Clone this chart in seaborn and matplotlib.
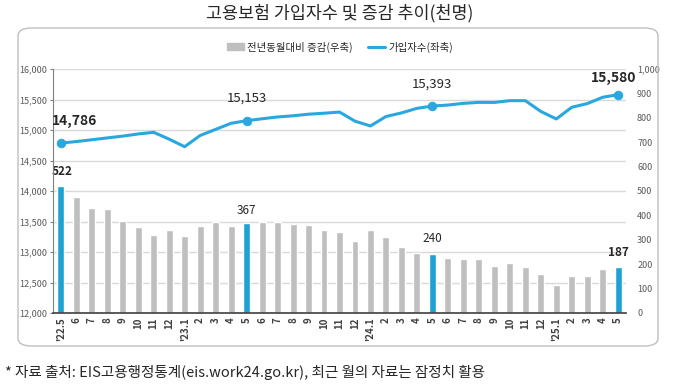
import matplotlib
matplotlib.use("Agg")
import matplotlib.pyplot as plt
import seaborn as sns
import pandas as pd
from matplotlib.patches import FancyBboxPatch, Patch
from matplotlib.lines import Line2D
from matplotlib.ticker import FuncFormatter, MultipleLocator

# month labels as printed under the bars
tick_labels = ["'22.5", "6", "7", "8", "9", "10", "11", "12",
               "'23.1", "2", "3", "4", "5", "6", "7", "8", "9", "10", "11", "12",
               "'24.1", "2", "3", "4", "5", "6", "7", "8", "9", "10", "11", "12",
               "'25.1", "2", "3", "4", "5"]

# 가입자수 (천명, left axis)
subscribers = [14786, 14810, 14840, 14870, 14900, 14935, 14962, 14850,
               14726, 14910, 15010, 15110, 15153, 15184, 15214, 15233, 15259, 15275, 15294, 15145,
               15066, 15221, 15280, 15355, 15393, 15409, 15437, 15453, 15452, 15481, 15481, 15304,
               15181, 15373, 15433, 15537, 15580]

# 전년동월대비 증감 (천명, right axis)
yoy_change = [522, 474, 429, 426, 378, 351, 318, 340,
              317, 357, 372, 357, 367, 374, 374, 363, 359, 340, 332, 295,
              340, 311, 270, 245, 240, 225, 223, 220, 193, 206, 187, 159,
              115, 152, 153, 182, 187]

# May of each year gets the blue bar, a marker and labels
highlight_idx = [0, 12, 24, 36]

title = "고용보험 가입자수 및 증감 추이(천명)"
legend_bar = "전년동월대비 증감(우축)"
legend_line = "가입자수(좌축)"
footnote = "* 자료 출처: EIS고용행정통계(eis.work24.go.kr), 최근 월의 자료는 잠정치 활용"

GRAY = "#BFBFBF"
BLUE = "#00B0F0"
LINE = "#29A8E0"
TXT = "#595959"

sns.set_style("white")
plt.rcParams['font.family'] = ['Noto Sans CJK KR', 'DejaVu Sans']

df = pd.DataFrame({"pos": range(len(tick_labels)), "subs": subscribers, "yoy": yoy_change})
df["kind"] = ["may" if i in highlight_idx else "other" for i in df["pos"]]

fig = plt.figure(figsize=(6.8, 3.85), dpi=100)
ax = fig.add_axes([53 / 680, 72 / 385, 573 / 680, 244 / 385])
ax2 = ax.twinx()

# bars on the right axis, behind the line
sns.barplot(data=df, x="pos", y="yoy", hue="kind", palette={"may": BLUE, "other": GRAY},
            dodge=False, width=0.45, legend=False, ax=ax2)
ax.set_zorder(ax2.get_zorder() + 1)
ax.patch.set_visible(False)

sns.lineplot(data=df, x="pos", y="subs", color=LINE, lw=2.2, ax=ax)
sns.scatterplot(data=df.iloc[highlight_idx], x="pos", y="subs", color=LINE, s=40,
                edgecolor=LINE, zorder=5, ax=ax)

ax.set_xlim(-0.5, len(tick_labels) - 0.5)
ax.set_ylim(12000, 16000)
ax2.set_ylim(0, 1000)
ax.set_yticks(range(12000, 16001, 500))
ax2.set_yticks(range(0, 1001, 100))
comma = FuncFormatter(lambda v, p: f"{int(v):,}")
ax.yaxis.set_major_formatter(comma)
ax2.yaxis.set_major_formatter(comma)
ax.set_xticks(df["pos"], tick_labels, rotation=90)

# gridlines follow the left axis steps (every 500 -> 125 on the right)
ax2.yaxis.set_minor_locator(MultipleLocator(125))
ax2.yaxis.remove_overlapping_locs = False
ax2.grid(which="minor", axis="y", color="#D9D9D9", lw=1)
ax2.grid(which="major", visible=False)
ax2.set_axisbelow(True)

for a in (ax, ax2):
    a.set_xlabel("")
    a.set_ylabel("")
    for s in a.spines.values():
        s.set_visible(False)
ax.spines["left"].set_visible(True)
ax.spines["left"].set_color("#808080")
ax.spines["bottom"].set_visible(True)
ax.spines["bottom"].set_color("#404040")
ax.spines["bottom"].set_linewidth(1.2)

ax.tick_params(axis="y", labelsize=6.5, labelcolor=TXT, length=2, color="#808080", pad=2)
ax2.tick_params(axis="y", which="both", labelsize=6.5, labelcolor=TXT, length=0, pad=8)
ax.tick_params(axis="x", labelsize=7, labelcolor="#404040", length=0, pad=3)
for t in ax.get_xticklabels():
    t.set_fontweight("bold")

# value labels
line_offsets = [(10, 16), (0, 16), (0, 16), (-3, 12)]
bar_offsets = [(1, 10), (0, 9.5), (0, 11.5), (0, 11)]
for k, i in enumerate(highlight_idx):
    edge = k in (0, len(highlight_idx) - 1)
    bold = "bold" if edge else "normal"
    ax.annotate(f"{subscribers[i]:,}", xy=(i, subscribers[i]), xytext=line_offsets[k],
                textcoords="offset points", ha="center", va="center",
                fontsize=10 if edge else 9.5, fontweight=bold, color="#262626")
    ax2.annotate(f"{yoy_change[i]:,}", xy=(i, yoy_change[i]), xytext=bar_offsets[k],
                 textcoords="offset points", ha="center", va="center",
                 fontsize=8.5, fontweight=bold, color="#262626")

handles = [Patch(color=GRAY), Line2D([0], [0], color=LINE, lw=2.2)]
fig.legend(handles, [legend_bar, legend_line], loc="center", bbox_to_anchor=(340 / 680, 1 - 47 / 385),
           ncol=2, frameon=False, fontsize=7.5, handlelength=1.6, handleheight=0.6,
           columnspacing=1.5, handletextpad=0.3, labelcolor="#262626")

fig.add_artist(FancyBboxPatch((18 / 680, 1 - 346 / 385), 640 / 680, 318 / 385,
                              boxstyle="round,pad=0,rounding_size=0.02", transform=fig.transFigure,
                              facecolor="none", edgecolor="#BFBFBF", lw=1))
fig.text(0.5, 1 - 13 / 385, title, ha="center", va="center", fontsize=12.5, color="#262626")
fig.text(5 / 680, 1 - 372 / 385, footnote, ha="left", va="center", fontsize=10.5, color="#262626")

fig.savefig("out.png", dpi=100)
